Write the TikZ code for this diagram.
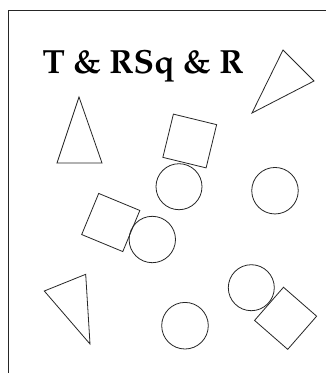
\documentclass[tikz,border=0pt]{standalone}
\usepackage[T1]{fontenc}
\begin{document}
\begin{tikzpicture}[x=1pt,y=-1pt,
  shp/.style={draw=black!85,line width=0.8pt,line join=miter},
  frm/.style={draw=black!85,line width=1pt},
  ttl/.style={inner sep=0pt,anchor=base west,font=\fontencoding{T1}\fontfamily{ppl}\fontsize{33.5}{36}\bfseries\selectfont}]
\useasboundingbox (0,0) rectangle (326,373);
\path[fill=white] (0,0) rectangle (326,373);
\draw[frm] (8,10) rectangle (340,390);
\node[ttl] (title) at (42.3,73.3) {T \& RSq \& R};
% triangles
\draw[shp] (283,50) coordinate (t1a) -- (314,81) coordinate (t1b) -- (252,113) coordinate (t1c) -- cycle;
\draw[shp] (79,97) coordinate (t2a) -- (102,163) coordinate (t2b) -- (57,163) coordinate (t2c) -- cycle;
\draw[shp] (44.3,291) coordinate (t3a) -- (85.7,274.3) coordinate (t3b) -- (90,344) coordinate (t3c) -- cycle;
% squares
\node[shp,minimum size=44.5pt,inner sep=0pt,rotate=-13.7] (sq1) at (189.75,141) {};
\node[shp,minimum size=44.5pt,inner sep=0pt,rotate=-22.5] (sq2) at (110.75,222.5) {};
\node[shp,minimum size=44pt,inner sep=0pt,rotate=-41.1] (sq3) at (285.6,318.3) {};
% circles
\node[shp,circle,minimum size=46pt,inner sep=0pt] (c1) at (179,186.7) {};
\node[shp,circle,minimum size=46.5pt,inner sep=0pt] (c2) at (275,190.7) {};
\node[shp,circle,minimum size=46.4pt,inner sep=0pt] (c3) at (152.3,239.5) {};
\node[shp,circle,minimum size=46.6pt,inner sep=0pt] (c4) at (185,325.7) {};
\node[shp,circle,minimum size=46pt,inner sep=0pt] (c5) at (251.3,287.7) {};
\end{tikzpicture}
\end{document}
